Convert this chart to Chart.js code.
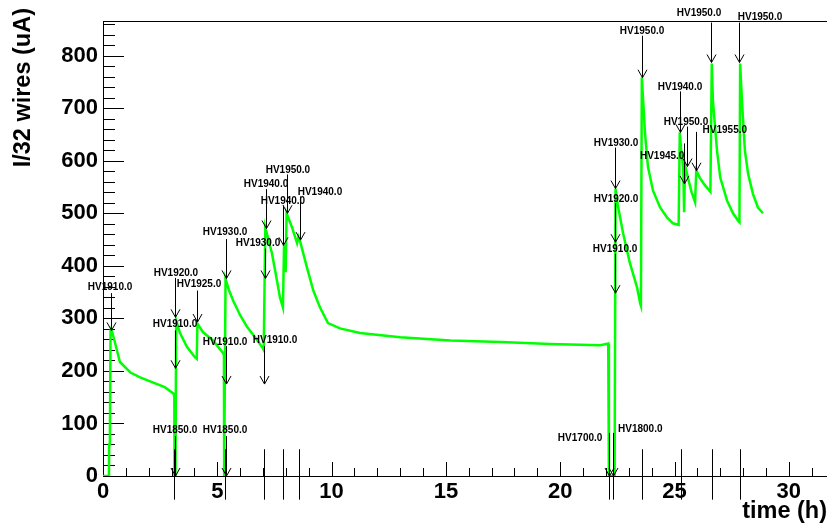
<!DOCTYPE html>
<html>
<head>
<meta charset="utf-8">
<script src="https://cdn.jsdelivr.net/npm/chart.js@4/dist/chart.umd.min.js"></script>
<style>
  body { margin: 0; background: #fff; }
  #wrap { width: 827px; height: 527px; }
</style>
</head>
<body>
<div id="wrap"><canvas id="hvChart" width="827" height="527"></canvas></div>
<script>
// current per 32 wires vs time
const timeH = [0, 0.26, 0.27, 0.30, 0.33, 0.36, 0.5, 0.74, 1.2, 1.6, 2.06, 2.7, 3.08, 3.12, 3.13, 3.17,
  3.2, 3.37, 3.67, 4.02, 4.1, 4.13, 4.37, 4.81, 5.25, 5.29, 5.3, 5.33, 5.36, 5.5, 5.69, 6.0, 6.3, 6.74,
  6.98, 7.03, 7.1, 7.39, 7.61, 7.74, 7.87, 7.92, 7.97, 7.99, 8.03, 8.27, 8.49, 8.55, 8.62, 8.92, 9.2,
  9.49, 9.84, 10.37, 11.24, 13.0, 15.2, 17.4, 19.55, 21.75, 22.1, 22.13, 22.38, 22.42, 22.5, 22.75,
  23.05, 23.36, 23.5, 23.53, 23.57, 23.71, 23.84, 24.06, 24.37, 24.67, 24.93, 25.18, 25.23, 25.3,
  25.38, 25.42, 25.46, 25.6, 25.75, 25.9, 25.95, 26.1, 26.3, 26.57, 26.63, 26.68, 26.86, 27.0, 27.3,
  27.56, 27.78, 27.84, 27.87, 27.95, 28.08, 28.22, 28.43, 28.65, 28.87];
const currentUA = [0, 0, 60, 66, 277, 281, 258, 217, 197, 188, 180, 169, 157, 151, 0, 0,
  296, 272, 246, 226, 223, 290, 274, 258, 234, 231, 0, 0, 375, 355, 334, 306, 284, 259,
  244, 240, 473, 424, 372, 340, 321, 440, 425, 388, 500, 473, 443, 455, 447, 397, 353,
  321, 291, 281, 272, 264, 258, 255, 251, 249, 252, 0, 0, 547, 520, 462,
  405, 359, 328, 324, 759, 652, 588, 543, 511, 492, 481, 478, 654, 615,
  588, 502, 592, 565, 540, 521, 582, 568, 555, 541, 785, 714, 619, 568, 524,
  500, 486, 483, 785, 714, 619, 575, 537, 511, 500];

// HV change annotations: arrow at hvTime from hvFrom down to hvTo, text at (hvTextT, hvTextV)
const hvText = ["HV1910.0", "HV1920.0", "HV1910.0", "HV1850.0", "HV1925.0", "HV1930.0", "HV1910.0",
  "HV1850.0", "HV1910.0", "HV1940.0", "HV1930.0", "HV1950.0", "HV1940.0", "HV1940.0", "HV1700.0",
  "HV1800.0", "HV1930.0", "HV1920.0", "HV1910.0", "HV1950.0", "HV1940.0", "HV1950.0", "HV1945.0",
  "HV1955.0", "HV1950.0", "HV1950.0"];
const hvTime = [0.35, 3.15, 3.15, 3.15, 4.11, 5.38, 5.38, 5.38, 7.04, 7.13, 7.09, 8.05, 7.87, 8.62,
  22.13, 22.31, 22.4, 22.4, 22.4, 23.58, 25.24, 25.55, 25.42, 25.94, 26.6, 27.83];
const hvFrom = [348, 377, 277, 76, 353, 451, 247, 76, 247, 546, 433, 574, 515, 532, 82, 82, 625, 519,
  423, 838, 732, 665, 633, 655, 863, 863];
const hvTo = [277, 302, 205, 0, 293, 376, 175, 0, 175, 471, 376, 500, 439, 449, 0, 0, 547, 445, 348,
  758, 654, 589, 556, 581, 787, 787];
const hvTextT = [0.31, 3.19, 3.15, 3.15, 4.2, 5.34, 5.34, 5.34, 7.525, 7.13, 6.78, 8.09, 7.87, 9.49,
  20.87, 23.5, 22.44, 22.44, 22.4, 23.58, 25.24, 25.5, 24.46, 27.2, 26.07, 28.74];
const hvTextV = [359, 386, 289, 87, 365, 463, 255, 87, 258, 555, 443, 581, 523, 541, 72, 89, 633, 526,
  431, 846, 739, 673, 608, 659, 880, 874];

// short marks crossing the time axis
const markTimes = [3.1, 5.34, 7.04, 7.87, 8.57, 22.13, 22.31, 23.58, 25.28, 26.64, 27.87];
const markFrom = 51;
const markTo = -45;

const xTicks = [0, 5, 10, 15, 20, 25, 30];
const yTicks = [0, 100, 200, 300, 400, 500, 600, 700, 800];
const xMax = 31.67;
const yMax = 866;

const FONT = "'Liberation Sans', Arial, Helvetica, sans-serif";

const rootStyle = {
  id: "rootStyle",
  beforeDatasetsDraw(chart) {
    const { ctx, chartArea: a, scales: { x, y } } = chart;
    ctx.save();
    ctx.strokeStyle = "#000";
    ctx.lineWidth = 1;
    ctx.beginPath();
    ctx.moveTo(a.left + 0.5, a.top);
    ctx.lineTo(a.left + 0.5, a.bottom);
    ctx.moveTo(a.left, a.bottom + 0.5);
    ctx.lineTo(a.right, a.bottom + 0.5);
    ctx.moveTo(a.left, a.top + 0.5);
    ctx.lineTo(a.right, a.top + 0.5);
    // time axis ticks, major every 5 h
    for (let v = 0; v <= xMax; v += 1) {
      const px = Math.round(x.getPixelForValue(v)) + 0.5;
      const len = v % 5 === 0 ? 14 : 8;
      ctx.moveTo(px, a.bottom);
      ctx.lineTo(px, a.bottom - len);
    }
    // current axis ticks, major every 100
    for (let v = 0; v <= yMax; v += 20) {
      const py = Math.round(y.getPixelForValue(v)) + 0.5;
      const len = v % 100 === 0 ? 21 : 12;
      ctx.moveTo(a.left, py);
      ctx.lineTo(a.left + len, py);
    }
    ctx.stroke();
    ctx.restore();
  },
  afterDatasetsDraw(chart) {
    const { ctx, scales: { x, y } } = chart;
    ctx.save();
    ctx.strokeStyle = "#000";
    ctx.fillStyle = "#000";
    ctx.lineWidth = 1;
    ctx.beginPath();
    hvTime.forEach((t, i) => {
      const px = Math.round(x.getPixelForValue(t)) + 0.5;
      const y0 = y.getPixelForValue(hvFrom[i]);
      const y1 = y.getPixelForValue(hvTo[i]);
      ctx.moveTo(px, y0);
      ctx.lineTo(px, y1);
      ctx.moveTo(px - 4.5, y1 - 8);
      ctx.lineTo(px, y1);
      ctx.lineTo(px + 4.5, y1 - 8);
    });
    markTimes.forEach(t => {
      const px = Math.round(x.getPixelForValue(t)) + 0.5;
      ctx.moveTo(px, y.getPixelForValue(markFrom));
      ctx.lineTo(px, y.getPixelForValue(markTo));
    });
    ctx.stroke();

    ctx.font = "bold 10px " + FONT;
    ctx.textAlign = "center";
    ctx.textBaseline = "middle";
    hvText.forEach((s, i) => {
      ctx.fillText(s, x.getPixelForValue(hvTextT[i]), y.getPixelForValue(hvTextV[i]));
    });

    ctx.font = "bold 23.5px " + FONT;
    ctx.textAlign = "right";
    ctx.textBaseline = "alphabetic";
    ctx.fillText("time (h)", 827, 518);
    ctx.translate(24, 8);
    ctx.rotate(-Math.PI / 2);
    ctx.textBaseline = "middle";
    ctx.fillText("I/32 wires (uA)", 0, 0);
    ctx.restore();
  }
};

const points = timeH.map((t, i) => ({ x: t, y: currentUA[i] }));

new Chart(document.getElementById("hvChart"), {
  type: "scatter",
  data: {
    datasets: [{
      data: points,
      showLine: true,
      borderColor: "#00ff00",
      borderWidth: 2.5,
      pointRadius: 0,
      tension: 0
    }]
  },
  options: {
    responsive: false,
    animation: false,
    layout: { padding: { top: 21, left: 0, right: 0, bottom: 0 } },
    plugins: { legend: { display: false }, tooltip: { enabled: false } },
    scales: {
      x: {
        type: "linear",
        min: 0,
        max: xMax,
        grid: { display: false, drawTicks: false },
        border: { display: false },
        afterBuildTicks: s => { s.ticks = xTicks.map(v => ({ value: v })); },
        afterFit: s => { s.height = 51; },
        ticks: {
          color: "#000",
          padding: 3,
          maxRotation: 0,
          autoSkip: false,
          font: { family: FONT, size: 22, weight: "bold" }
        }
      },
      y: {
        type: "linear",
        min: 0,
        max: yMax,
        grid: { display: false, drawTicks: false },
        border: { display: false },
        afterBuildTicks: s => { s.ticks = yTicks.map(v => ({ value: v })); },
        afterFit: s => { s.width = 103; },
        ticks: {
          color: "#000",
          padding: 5,
          autoSkip: false,
          font: { family: FONT, size: 22, weight: "bold" }
        }
      }
    }
  },
  plugins: [rootStyle]
});
</script>
</body>
</html>
